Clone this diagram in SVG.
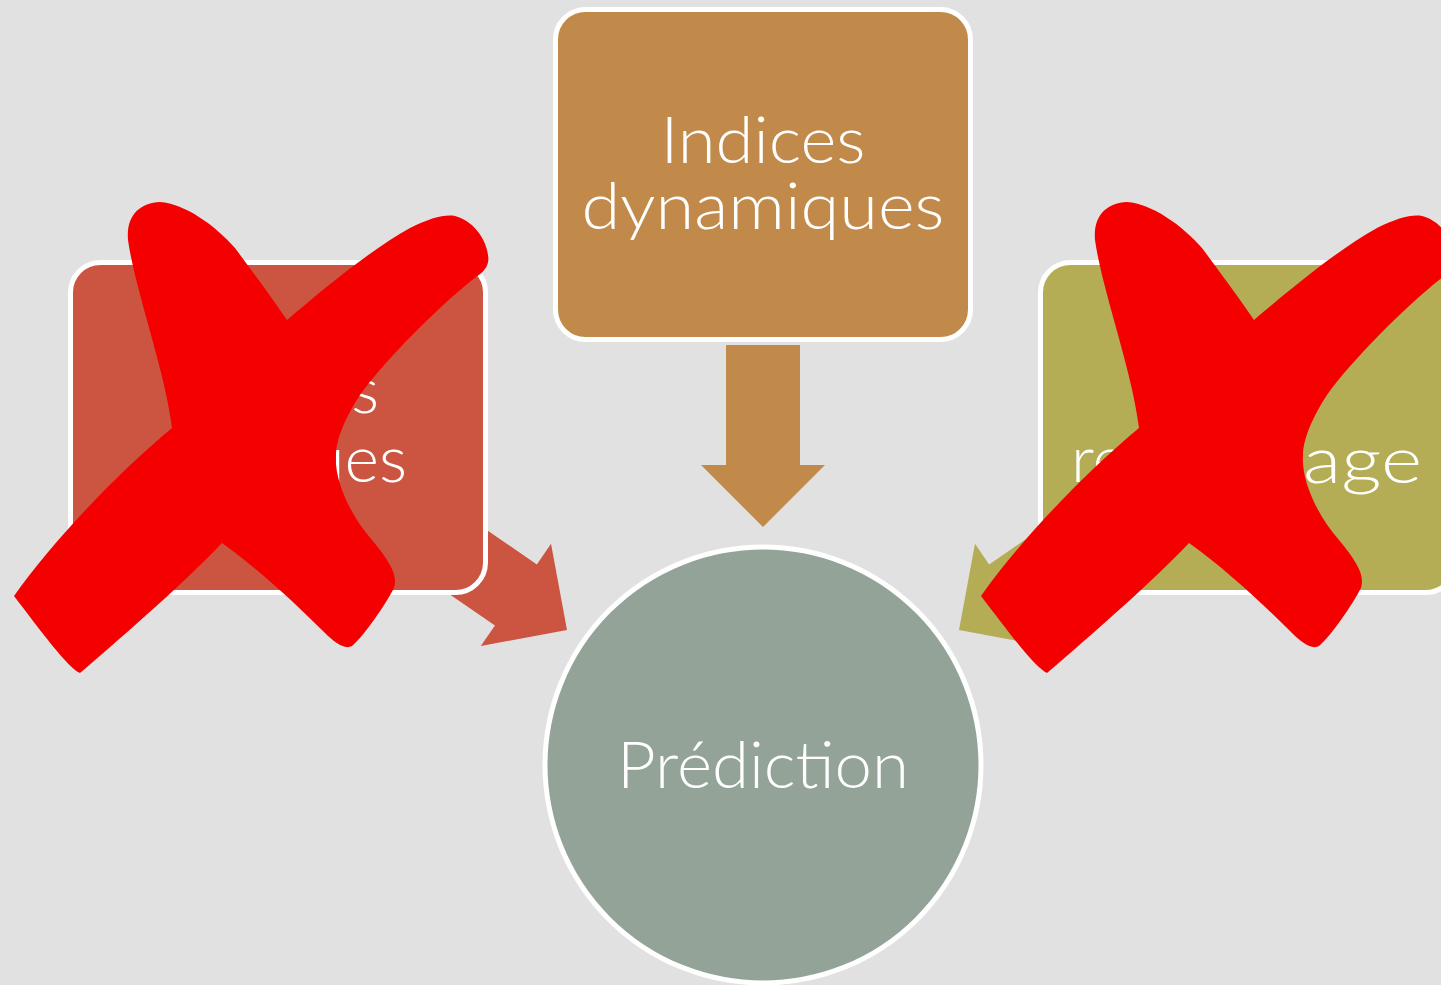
<svg xmlns="http://www.w3.org/2000/svg" width="1441" height="985" viewBox="0 0 1441 985">
  <defs>
    <style>
      .lbl { font-family: "Lato", "Liberation Sans", sans-serif; font-weight: 300; font-size: 66px; fill: #ffffff; }
      .box { stroke: #ffffff; stroke-width: 5; }
      .cross { fill: #f50000; }
    </style>
    <polygon id="arrow" points="0,0 -62,-62 -62,-37 -182,-37 -182,37 -62,37 -62,62"/>
    <path id="xmark" d="M160,202 C185,204 215,225 235,248 C255,275 272,298 287,320 C320,292 370,250 410,228 C430,218 445,214 455,216 C472,220 486,238 488,255 C490,265 484,272 476,277 C440,305 385,360 360,395 C345,418 336,440 336,455 C334,480 350,515 372,540 C390,562 398,575 394,588 C385,605 365,635 352,646 C345,650 335,643 325,633 C300,608 260,570 222,543 C185,582 130,630 80,673 C68,668 40,630 14,596 C50,545 110,480 172,428 C165,370 135,290 128,240 C126,215 140,203 160,202 Z"/>
  </defs>

  <rect x="0" y="0" width="1441" height="985" fill="#e1e1e1"/>

  <g id="connectors">
    <use href="#arrow" fill="#c28a4a" transform="translate(763,527) rotate(90)"/>
    <use href="#arrow" fill="#cb5540" transform="translate(567,630) rotate(34.5)"/>
    <use href="#arrow" fill="#b5ad55" transform="translate(959,630) rotate(145.5)"/>
  </g>

  <g id="node-indices-statiques">
    <rect class="box" x="70.5" y="262.5" width="415" height="330" rx="30" fill="#cb5540"/>
    <text class="lbl" x="379" y="413" text-anchor="end">s</text>
    <text class="lbl" x="407" y="482" text-anchor="end">ues</text>
  </g>

  <g id="node-indices-dynamiques">
    <rect class="box" x="555.5" y="9.5" width="415" height="330" rx="30" fill="#c28a4a"/>
    <text class="lbl" x="763" y="163" text-anchor="middle" textLength="205" lengthAdjust="spacingAndGlyphs">Indices</text>
    <text class="lbl" x="763" y="229" text-anchor="middle" textLength="363" lengthAdjust="spacingAndGlyphs">dynamiques</text>
  </g>

  <g id="node-remplissage">
    <rect class="box" x="1040.5" y="262.5" width="415" height="330" rx="30" fill="#b5ad55"/>
    <text class="lbl" x="1071" y="482">re</text>
    <text class="lbl" x="1422" y="483" text-anchor="end" textLength="119" lengthAdjust="spacingAndGlyphs">age</text>
  </g>

  <g id="node-prediction">
    <circle cx="763" cy="765" r="218" fill="#93a398" stroke="#ffffff" stroke-width="5"/>
    <text class="lbl" x="763" y="788" text-anchor="middle" textLength="292" lengthAdjust="spacingAndGlyphs">Prédiction</text>
  </g>

  <g id="cross-marks">
    <use href="#xmark" class="cross"/>
    <use href="#xmark" class="cross" transform="translate(967,0)"/>
  </g>
</svg>
